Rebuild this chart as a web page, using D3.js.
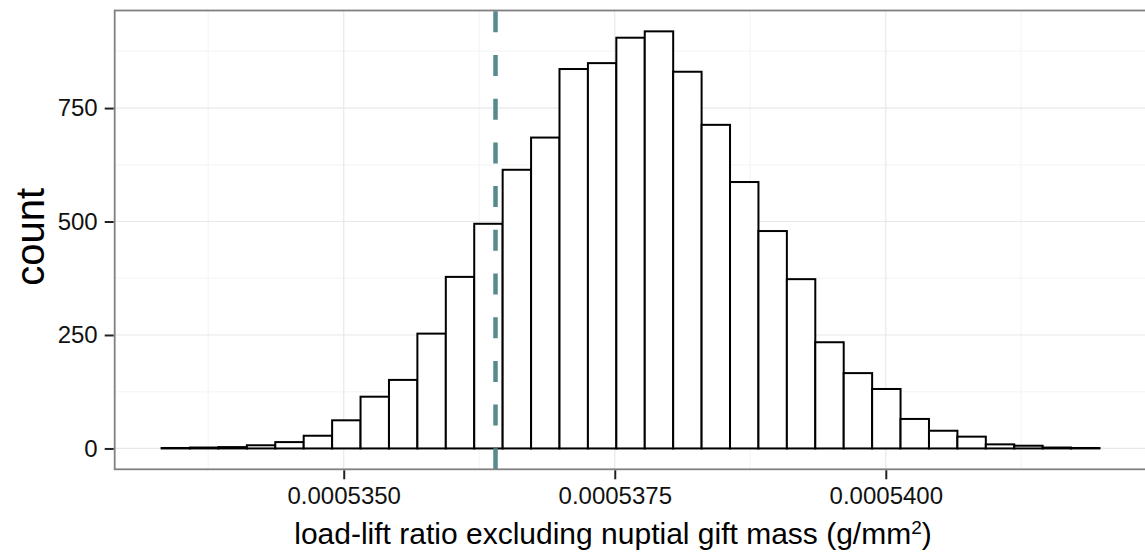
<!DOCTYPE html>
<html>
<head>
<meta charset="utf-8">
<script src="https://cdn.jsdelivr.net/npm/d3@7"></script>
<style>
  body { margin: 0; background: #fff; }
  text { font-family: "Liberation Sans", Arial, Helvetica, sans-serif; }
</style>
</head>
<body>
<div id="chart"></div>
<script>
// histogram bins: first edge, width, counts per bin
const binStart = 0.00053332;
const binWidth = 2.6216e-7;
const counts = [1, 2, 3, 7, 14, 28, 62, 114, 151, 253, 378, 495, 614, 685, 836, 849,
  905, 919, 830, 713, 587, 479, 373, 234, 166, 131, 65, 39, 26, 9, 6, 2, 1];

const xTicks = [0.000535, 0.0005375, 0.00054];
const xTickLabels = ["0.0005350", "0.0005375", "0.0005400"];
const yTicks = [0, 250, 500, 750];
const refValue = 0.0005364;

const W = 1145, H = 554;
const margin = { top: 10.5, left: 114.7, bottom: 84.7 };
const width = 1031.7;
const height = H - margin.top - margin.bottom;

const bins = counts.map((c, i) => ({
  x0: binStart + i * binWidth,
  x1: binStart + (i + 1) * binWidth,
  count: c
}));

const svg = d3.select("#chart").append("svg")
  .attr("width", W)
  .attr("height", H);

const xMin = bins[0].x0, xMax = bins[bins.length - 1].x1;
const xPad = (xMax - xMin) * 0.05;
const x = d3.scaleLinear()
  .domain([xMin - xPad, xMax + xPad])
  .range([margin.left, margin.left + width]);

const yMax = d3.max(counts);
const y = d3.scaleLinear()
  .domain([-yMax * 0.05, yMax * 1.05])
  .range([margin.top + height, margin.top]);

const g = svg.append("g");

// minor grid
const xStep = xTicks[1] - xTicks[0];
const xMinor = d3.range(xTicks[0] - xStep * 1.5, xMax + xPad, xStep);
const yMinor = yTicks.map(v => v + 125);

g.selectAll(".xminor").data(xMinor).enter().append("line")
  .attr("x1", d => x(d)).attr("x2", d => x(d))
  .attr("y1", margin.top).attr("y2", margin.top + height)
  .attr("stroke", "#f7f7f7").attr("stroke-width", 1.5);

g.selectAll(".yminor").data(yMinor).enter().append("line")
  .attr("x1", margin.left).attr("x2", margin.left + width)
  .attr("y1", d => y(d)).attr("y2", d => y(d))
  .attr("stroke", "#f7f7f7").attr("stroke-width", 1.5);

// major grid
g.selectAll(".xmajor").data(xTicks).enter().append("line")
  .attr("x1", d => x(d)).attr("x2", d => x(d))
  .attr("y1", margin.top).attr("y2", margin.top + height)
  .attr("stroke", "#e8e8e8").attr("stroke-width", 1.2);

g.selectAll(".ymajor").data(yTicks).enter().append("line")
  .attr("x1", margin.left).attr("x2", margin.left + width)
  .attr("y1", d => y(d)).attr("y2", d => y(d))
  .attr("stroke", "#e8e8e8").attr("stroke-width", 1.2);

// bars
g.selectAll(".bar").data(bins).enter().append("rect")
  .attr("x", d => x(d.x0))
  .attr("width", d => x(d.x1) - x(d.x0))
  .attr("y", d => y(d.count))
  .attr("height", d => y(0) - y(d.count))
  .attr("fill", "#fff")
  .attr("stroke", "#000")
  .attr("stroke-width", 2);

// reference line, dashes start at the bottom
g.append("line")
  .attr("x1", x(refValue)).attr("x2", x(refValue))
  .attr("y1", margin.top + height).attr("y2", margin.top)
  .attr("stroke", "#568a8c")
  .attr("stroke-width", 4.5)
  .attr("stroke-dasharray", "21,22.7");

// panel border
g.append("rect")
  .attr("x", margin.left).attr("y", margin.top)
  .attr("width", width).attr("height", height)
  .attr("fill", "none")
  .attr("stroke", "#808080")
  .attr("stroke-width", 1.8);

// axes
const xAxis = svg.append("g")
  .attr("transform", `translate(0,${margin.top + height + 1})`)
  .call(d3.axisBottom(x).tickValues(xTicks).tickSize(9).tickPadding(8)
    .tickFormat((d, i) => xTickLabels[i]));

const yAxis = svg.append("g")
  .attr("transform", `translate(${margin.left - 1},0)`)
  .call(d3.axisLeft(y).tickValues(yTicks).tickSize(9).tickPadding(7));

[xAxis, yAxis].forEach(a => {
  a.select(".domain").remove();
  a.selectAll(".tick line").attr("stroke", "#222").attr("stroke-width", 2);
  a.selectAll(".tick text")
    .attr("fill", "#111")
    .style("font-size", "24px")
    .style("font-family", "'Liberation Sans', Arial, Helvetica, sans-serif");
});

// axis titles
const xTitle = svg.append("text")
  .attr("x", 613)
  .attr("y", 544)
  .attr("text-anchor", "middle")
  .attr("fill", "#000")
  .style("font-size", "30px");
xTitle.append("tspan").text("load-lift ratio excluding nuptial gift mass (g/mm");
xTitle.append("tspan").attr("dy", -10).style("font-size", "19px").text("2");
xTitle.append("tspan").attr("dy", 10).text(")");

svg.append("text")
  .attr("transform", `translate(44,${margin.top + height / 2 - 3}) rotate(-90)`)
  .attr("text-anchor", "middle")
  .attr("fill", "#000")
  .style("font-size", "40px")
  .text("count");
</script>
</body>
</html>
